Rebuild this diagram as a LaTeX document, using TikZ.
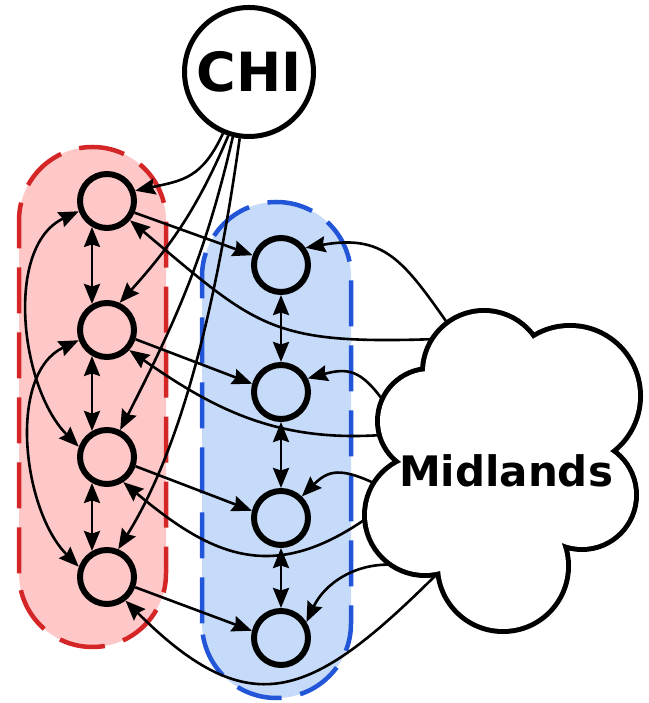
\documentclass[tikz,border=0pt]{standalone}
\usepackage{fontspec}
\setmainfont{DejaVu Sans}
\usetikzlibrary{arrows.meta}
\definecolor{redfill}{RGB}{255,200,200}
\definecolor{redline}{RGB}{212,38,38}
\definecolor{bluefill}{RGB}{198,219,249}
\definecolor{blueline}{RGB}{34,85,215}
\begin{document}
\begin{tikzpicture}[x=1pt,y=1pt,
  dot/.style={circle,draw,line width=6pt,minimum size=54pt,inner sep=0pt},
  edge/.style={line width=2.6pt,-{Stealth[length=20pt,width=16pt,inset=2.5pt]}},
  bidir/.style={line width=2.6pt,{Stealth[length=20pt,width=16pt,inset=2.5pt]}-{Stealth[length=20pt,width=16pt,inset=2.5pt]}},
  region/.style={line width=4.5pt,dash pattern=on 46pt off 19pt},
  ring/.style={line width=10pt},
]
\useasboundingbox (0,0) rectangle (648,703);
% groups
\filldraw[region,fill=redfill,draw=redline,rounded corners=73.5pt] (19,56) rectangle (166,556);
\filldraw[region,fill=bluefill,draw=blueline,rounded corners=74.5pt] (202,5) rectangle (351,501);
% nodes
\node[dot] (r1) at (107,502) {};
\node[dot] (r2) at (107,373) {};
\node[dot] (r3) at (107,246) {};
\node[dot] (r4) at (107,126) {};
\node[dot] (b1) at (281,438) {};
\node[dot] (b2) at (281,311) {};
\node[dot] (b3) at (281,185) {};
\node[dot] (b4) at (281,65) {};
\node[circle,draw,fill=white,line width=5pt,minimum size=129pt,inner sep=0pt,
      font=\bfseries\fontsize{54}{60}\selectfont] (chi) at (249,631) {CHI};
% CHI -> red
\draw[edge] (chi.247) to[out=245,in=12,looseness=1.2] (r1.20);
\draw[edge] (chi.252) to[out=247,in=48] (r2.65);
\draw[edge] (chi.256) to[out=257,in=63] (r3.64);
\draw[edge] (chi.262) to[out=262,in=58,looseness=0.8] (r4.68);
% red column
\draw[bidir] (r1.240) -- (r2.120);
\draw[bidir] (r2.240) -- (r3.120);
\draw[bidir] (r3.240) -- (r4.120);
\draw[bidir] (r1.200) to[out=205,in=135,looseness=0.9] (r3.160);
\draw[bidir] (r2.200) to[out=205,in=135,looseness=0.9] (r4.160);
% red -> blue
\draw[edge] (r1.-23) -- (b1.161);
\draw[edge] (r2.-18) -- (b2.164);
\draw[edge] (r3.-18) -- (b3.166);
\draw[edge] (r4.-20) -- (b4.166);
% blue column
\draw[bidir] (b1.south) -- (b2.north);
\draw[bidir] (b2.south) -- (b3.north);
\draw[bidir] (b3.south) -- (b4.north);
% Midlands -> blue
\coordinate (mb1) at (448,379);
\coordinate (mb2) at (384,301);
\coordinate (mb3) at (376,219);
\coordinate (mb4) at (397,138);
\draw[edge] (mb1) to[out=125,in=10,looseness=1.25] (b1.35);
\draw[edge] (mb2) to[out=125,in=15,looseness=1.3] (b2.27);
\draw[edge] (mb3) to[out=155,in=45,looseness=1.3] (b3.46);
\draw[edge] (mb4) to[out=175,in=65] (b4.32);
% Midlands -> red
\coordinate (mr1) at (438,364);
\coordinate (mr2) at (382,268);
\coordinate (mr3) at (367,185);
\coordinate (mr4) at (441,133);
\draw[edge] (mr1) to[out=182,in=-40,looseness=1.3] (r1.-40);
\draw[edge] (mr2) to[out=184,in=-35] (r2.-42);
\draw[edge] (mr3) to[out=215,in=-40,looseness=1.2] (r3.-57);
\draw[edge] (mr4) to[out=225,in=-45,looseness=1.45] (r4.-52);
% cloud
\foreach \cx/\cy/\cr in {484/331/59, 570/307/68, 582/208/52, 503/137/63, 425/188/58, 430/282/50}
  \draw[ring] (\cx,\cy) circle[radius=\cr];
\foreach \cx/\cy/\cr in {484/331/59, 570/307/68, 582/208/52, 503/137/63, 425/188/58, 430/282/50}
  \fill[white] (\cx,\cy) circle[radius=\cr];
\fill[white] (484,331) -- (570,307) -- (582,208) -- (503,137) -- (425,188) -- (430,282) -- cycle;
\node[font=\bfseries\fontsize{42}{50}\selectfont,anchor=base,inner sep=0pt] (mid) at (506,216) {Midlands};
\end{tikzpicture}
\end{document}
